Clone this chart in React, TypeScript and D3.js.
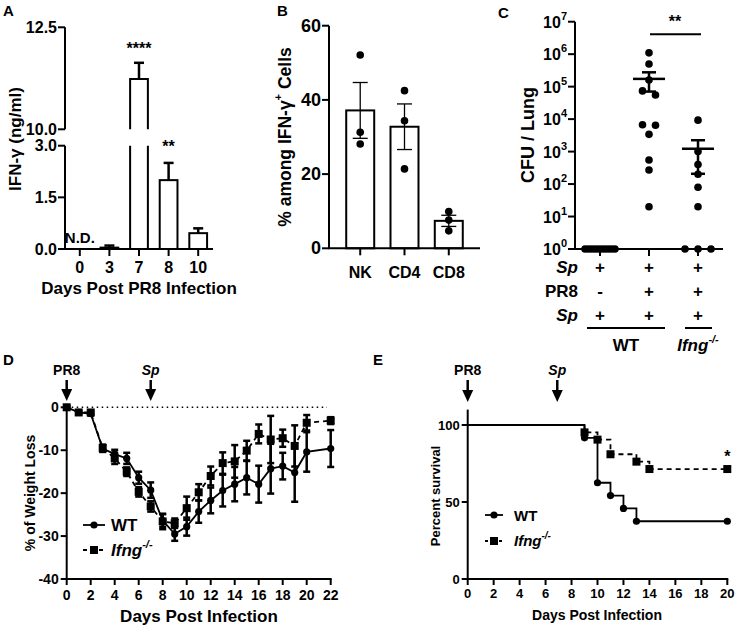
import React from 'react';
import * as d3 from 'd3';

const FONT = '"Liberation Sans", Arial, Helvetica, sans-serif';

// ---------- Panel A data ----------
const aDays = ['0', '3', '7', '8', '10'];
const aMean: (number | null)[] = [null, 0.04, 11.23, 2.0, 0.46];
const aSem: (number | null)[] = [null, 0.06, 0.4, 0.5, 0.14];
const aStars = ['', '', '****', '**', ''];
const aLowTicks = [0, 1.5, 3.0];
const aHighTicks = [10, 12.5];

// ---------- Panel B data ----------
const bCells = ['NK', 'CD4', 'CD8'];
const bNK = [52.1, 31.3, 28.1];
const bCD4 = [42.5, 34.4, 21.4];
const bCD8 = [9.9, 7.6, 4.7];
const bTicks = [0, 20, 40, 60];

// ---------- Panel C data ----------
const cGroups = ['SpOnly', 'WT', 'Ifng'];
const cSpOnly = [1, 1, 1, 1, 1, 1, 1, 1, 1, 1];
const cWT = [1.1e6, 5e5, 1.6e5, 7.4e4, 5.5e4, 6.7e3, 6.5e3, 3.4e3, 550, 270, 20];
const cIfng = [9.3e3, 1000, 400, 200, 80, 20, 1, 1, 1];
const cExponents = [0, 1, 2, 3, 4, 5, 6, 7];
const cRowSp1 = ['+', '+', '+'];
const cRowPR8 = ['-', '+', '+'];
const cRowSp2 = ['+', '+', '+'];

// ---------- Panel D data ----------
const dDays = [0, 1, 2, 3, 4, 5, 6, 7, 8, 9, 10, 11, 12, 13, 14, 15, 16, 17, 18, 19, 20, 22];
const dWT = [0, -1.2, -1.5, -9.6, -10.9, -11.9, -16.4, -19.3, -26.4, -29.5, -27.8, -24.3, -21.7, -19.4, -17.9, -16.4, -17.9, -14.3, -13.7, -15.2, -10.4, -9.6];
const dWTsem = [0.2, 0.3, 0.4, 0.8, 1.0, 1.3, 1.4, 1.8, 1.5, 1.6, 2.1, 2.6, 3.0, 3.7, 4.0, 3.9, 4.3, 5.8, 3.1, 6.8, 4.6, 4.3];
const dKO = [0, -1.2, -1.2, -9.5, -11.9, -15.0, -19.7, -23.1, -26.6, -27.0, -23.5, -19.8, -16.0, -13.0, -12.6, -10.1, -6.2, -7.5, -7.2, -9.0, -3.6, -3.1];
const dKOsem = [0.2, 0.3, 0.5, 0.8, 1.3, 1.0, 1.1, 1.2, 1.8, 1.1, 2.7, 1.9, 2.2, 2.5, 3.8, 2.3, 2.2, 5.5, 2.0, 4.8, 1.8, 0.8];
const dYTicks = [0, -10, -20, -30, -40];
const dXTicks = [0, 2, 4, 6, 8, 10, 12, 14, 16, 18, 20, 22];

// ---------- Panel E data ----------
const eWTTime = [0, 9, 10, 11, 12, 13, 20];
const eWTSurv = [100, 91.7, 62.5, 54.2, 45.8, 37.5, 37.5];
const eKOTime = [0, 9, 10, 11, 13, 14, 20];
const eKOSurv = [100, 95.2, 90.5, 81.0, 76.2, 71.4, 71.4];
const eYTicks = [0, 50, 100];
const eXTicks = [0, 2, 4, 6, 8, 10, 12, 14, 16, 18, 20];

type TP = {
  x: number; y: number; size: number; anchor?: string; italic?: boolean;
  rotate?: boolean; children: React.ReactNode; weight?: string;
};
function T({ x, y, size, anchor = 'middle', italic, rotate, children, weight = 'bold' }: TP) {
  return (
    <text
      x={rotate ? 0 : x}
      y={rotate ? 0 : y}
      transform={rotate ? `translate(${x},${y}) rotate(-90)` : undefined}
      fontSize={size}
      fontFamily={FONT}
      fontWeight={weight}
      fontStyle={italic ? 'italic' : 'normal'}
      textAnchor={anchor}
      dominantBaseline="central"
      fill="#000"
    >
      {children}
    </text>
  );
}

function Arrow({ x, y0, y1 }: { x: number; y0: number; y1: number }) {
  const head = 12;
  return (
    <g>
      <line x1={x} x2={x} y1={y0} y2={y1 - head + 1} stroke="#000" strokeWidth={2.5} />
      <polygon points={`${x - 5.5},${y1 - head} ${x + 5.5},${y1 - head} ${x},${y1}`} fill="#000" />
    </g>
  );
}

function PanelA() {
  const x = d3.scaleBand().domain(aDays).range([65, 213]).paddingInner(0.4).paddingOuter(0.2);
  const yLo = d3.scaleLinear().domain([0, 3]).range([249, 145.7]);
  const yHi = d3.scaleLinear().domain([10, 12.5]).range([129.3, 27.3]);
  const bw = x.bandwidth();
  const ax = 65;
  return (
    <g>
      <T x={3} y={10} size={15} anchor="start">A</T>
      {aDays.map((d, i) => {
        const v = aMean[i];
        if (v === null) return null;
        const x0 = x(d)!;
        const x1 = x0 + bw;
        const cx = x0 + bw / 2;
        const s = aSem[i] || 0;
        if (v > 3) {
          const top = yHi(v);
          return (
            <g key={d}>
              <path d={`M${x0},${yLo(3)} V${yLo(0)} H${x1} V${yLo(3)}`} fill="#fff" stroke="#000" strokeWidth={2} />
              <path d={`M${x0},${yHi(10)} V${top} H${x1} V${yHi(10)}`} fill="#fff" stroke="#000" strokeWidth={2} />
              <line x1={cx} x2={cx} y1={top} y2={yHi(v + s)} stroke="#000" strokeWidth={2.5} />
              <line x1={cx - 5} x2={cx + 5} y1={yHi(v + s)} y2={yHi(v + s)} stroke="#000" strokeWidth={2.5} />
            </g>
          );
        }
        const top = yLo(v);
        return (
          <g key={d}>
            <rect x={x0} y={top} width={bw} height={Math.max(yLo(0) - top, 0.5)} fill="#fff" stroke="#000" strokeWidth={2} />
            <line x1={cx} x2={cx} y1={top} y2={yLo(v + s)} stroke="#000" strokeWidth={2.5} />
            <line x1={cx - 5} x2={cx + 5} y1={yLo(v + s)} y2={yLo(v + s)} stroke="#000" strokeWidth={2.5} />
          </g>
        );
      })}
      {aDays.map((d, i) => {
        if (!aStars[i]) return null;
        const v = aMean[i]! + (aSem[i] || 0);
        const yy = v > 3 ? yHi(v) - 14 : yLo(v) - 16;
        return <T key={d} x={x(d)! + bw / 2} y={yy} size={16}>{aStars[i]}</T>;
      })}
      <T x={x('0')! + bw / 2} y={237} size={15}>N.D.</T>
      <line x1={ax} x2={ax} y1={yLo(0)} y2={yLo(3)} stroke="#000" strokeWidth={2} />
      <line x1={ax} x2={ax} y1={yHi(10)} y2={yHi(12.5)} stroke="#000" strokeWidth={2} />
      {aLowTicks.map((t) => (
        <g key={'l' + t}>
          <line x1={ax - 7} x2={ax} y1={yLo(t)} y2={yLo(t)} stroke="#000" strokeWidth={2} />
          <T x={ax - 8} y={yLo(t)} size={16} anchor="end">{d3.format('.1f')(t)}</T>
        </g>
      ))}
      {aHighTicks.map((t) => (
        <g key={'h' + t}>
          <line x1={ax - 7} x2={ax} y1={yHi(t)} y2={yHi(t)} stroke="#000" strokeWidth={2} />
          <T x={ax - 8} y={yHi(t)} size={16} anchor="end">{d3.format('.1f')(t)}</T>
        </g>
      ))}
      <line x1={ax - 1} x2={213} y1={249} y2={249} stroke="#000" strokeWidth={2} />
      {aDays.map((d) => (
        <g key={'x' + d}>
          <line x1={x(d)! + bw / 2} x2={x(d)! + bw / 2} y1={249} y2={256} stroke="#000" strokeWidth={2} />
          <T x={x(d)! + bw / 2} y={267} size={16}>{d}</T>
        </g>
      ))}
      <T x={139} y={288} size={17}>Days Post PR8 Infection</T>
      <T x={15} y={139} size={17} rotate>IFN-γ (ng/ml)</T>
    </g>
  );
}

function PanelB() {
  const x = d3.scaleBand().domain(bCells).range([329, 480]).paddingInner(0.368).paddingOuter(0.389);
  const y = d3.scaleLinear().domain([0, 60]).range([248.3, 25.7]);
  const bw = x.bandwidth();
  const sets = [bNK, bCD4, bCD8];
  return (
    <g>
      <T x={277} y={10} size={15} anchor="start">B</T>
      {bCells.map((c, i) => {
        const vals = sets[i];
        const m = d3.mean(vals)!;
        const sem = d3.deviation(vals)! / Math.sqrt(vals.length);
        const x0 = x(c)!;
        const cx = x0 + bw / 2;
        return (
          <g key={c}>
            <rect x={x0} y={y(m)} width={bw} height={y(0) - y(m)} fill="#fff" stroke="#000" strokeWidth={2} />
            <line x1={cx} x2={cx} y1={y(m - sem)} y2={y(m + sem)} stroke="#000" strokeWidth={1.3} />
            <line x1={cx - 7.5} x2={cx + 7.5} y1={y(m + sem)} y2={y(m + sem)} stroke="#000" strokeWidth={1.3} />
            <line x1={cx - 7.5} x2={cx + 7.5} y1={y(m - sem)} y2={y(m - sem)} stroke="#000" strokeWidth={1.3} />
            {vals.map((v, j) => (
              <circle key={j} cx={cx} cy={y(v)} r={3.8} fill="#000" />
            ))}
          </g>
        );
      })}
      <line x1={329} x2={329} y1={y(0)} y2={y(60)} stroke="#000" strokeWidth={2} />
      {bTicks.map((t) => (
        <g key={t}>
          <line x1={322} x2={329} y1={y(t)} y2={y(t)} stroke="#000" strokeWidth={2} />
          <T x={321} y={y(t)} size={18} anchor="end">{t}</T>
        </g>
      ))}
      <line x1={328} x2={480} y1={y(0)} y2={y(0)} stroke="#000" strokeWidth={2} />
      {bCells.map((c) => (
        <g key={'x' + c}>
          <line x1={x(c)! + bw / 2} x2={x(c)! + bw / 2} y1={y(0)} y2={y(0) + 7} stroke="#000" strokeWidth={2} />
          <T x={x(c)! + bw / 2} y={272} size={16}>{c}</T>
        </g>
      ))}
      <text transform="translate(285,137) rotate(-90)" fontSize={17.5} fontFamily={FONT} fontWeight="bold" textAnchor="middle" dominantBaseline="central">
        % among IFN-γ<tspan dy={-7} fontSize={11}>+</tspan><tspan dy={7}> Cells</tspan>
      </text>
    </g>
  );
}

function swarm(vals: number[], maxW: number, gap: number) {
  const idx = vals.map((v, i) => i).sort((a, b) => vals[b] - vals[a]);
  const off = new Array(vals.length).fill(0);
  let cluster: number[] = [];
  const flush = () => {
    const n = cluster.length;
    if (n > 1) {
      const step = Math.min(gap, maxW / (n - 1));
      cluster.forEach((k, j) => { off[k] = (j - (n - 1) / 2) * step; });
    }
    cluster = [];
  };
  idx.forEach((k) => {
    if (cluster.length && Math.log10(vals[cluster[cluster.length - 1]]) - Math.log10(vals[k]) > 0.2) flush();
    cluster.push(k);
  });
  flush();
  return off;
}

function PanelC() {
  const x = d3.scalePoint().domain(cGroups).range([575, 723]).padding(0.51);
  const y = d3.scaleLog().domain([1, 1e7]).range([249, 21.7]);
  const sets = [cSpOnly, cWT, cIfng];
  const rows = [
    { label: 'Sp', italic: true, vals: cRowSp1, y: 267 },
    { label: 'PR8', italic: false, vals: cRowPR8, y: 291 },
    { label: 'Sp', italic: true, vals: cRowSp2, y: 315 },
  ];
  return (
    <g>
      <T x={498} y={12} size={15} anchor="start">C</T>
      {cGroups.map((g, i) => {
        const vals = sets[i];
        const cx = x(g)!;
        const off = swarm(vals, 30, 13);
        const m = d3.mean(vals)!;
        const sem = d3.deviation(vals)! / Math.sqrt(vals.length);
        return (
          <g key={g}>
            {vals.map((v, j) => (
              <circle key={j} cx={cx + off[j]} cy={y(v)} r={3.8} fill="#000" />
            ))}
            <line x1={cx - 16} x2={cx + 16} y1={y(m)} y2={y(m)} stroke="#000" strokeWidth={2.5} />
            {sem > 0 && (
              <g>
                <line x1={cx} x2={cx} y1={y(m - sem)} y2={y(m + sem)} stroke="#000" strokeWidth={2.5} />
                <line x1={cx - 7} x2={cx + 7} y1={y(m + sem)} y2={y(m + sem)} stroke="#000" strokeWidth={2.5} />
                <line x1={cx - 7} x2={cx + 7} y1={y(m - sem)} y2={y(m - sem)} stroke="#000" strokeWidth={2.5} />
              </g>
            )}
          </g>
        );
      })}
      <line x1={575} x2={575} y1={y(1)} y2={y(1e7)} stroke="#000" strokeWidth={2} />
      {cExponents.map((e) => (
        <g key={e}>
          <line x1={568} x2={575} y1={y(10 ** e)} y2={y(10 ** e)} stroke="#000" strokeWidth={2} />
          <text x={567} y={y(10 ** e) + 6} fontSize={16} fontFamily={FONT} fontWeight="bold" textAnchor="end">
            10<tspan dy={-8} fontSize={11}>{e}</tspan>
          </text>
        </g>
      ))}
      <line x1={574} x2={723} y1={249} y2={249} stroke="#000" strokeWidth={2} />
      {cGroups.map((g) => (
        <line key={g} x1={x(g)!} x2={x(g)!} y1={249} y2={256} stroke="#000" strokeWidth={2} />
      ))}
      <line x1={x('WT')! + 1} x2={x('Ifng')! + 3} y1={34.3} y2={34.3} stroke="#000" strokeWidth={2} />
      <T x={675} y={21} size={16}>**</T>
      {rows.map((r, i) => (
        <g key={i}>
          <T x={578} y={r.y} size={17} anchor="end" italic={r.italic}>{r.label}</T>
          {cGroups.map((g, j) => (
            <T key={g} x={x(g)!} y={r.y} size={17}>{r.vals[j]}</T>
          ))}
        </g>
      ))}
      <line x1={587} x2={665} y1={328} y2={328} stroke="#000" strokeWidth={2} />
      <line x1={685} x2={712} y1={328} y2={328} stroke="#000" strokeWidth={2} />
      <T x={626} y={345} size={17}>WT</T>
      <text x={698} y={351} fontSize={17} fontFamily={FONT} fontWeight="bold" fontStyle="italic" textAnchor="middle">
        Ifng<tspan dy={-8} fontSize={11}>-/-</tspan>
      </text>
      <T x={528} y={135} size={18} rotate>CFU / Lung</T>
    </g>
  );
}

function PanelD() {
  const x = d3.scaleLinear().domain([0, 22]).range([66.7, 330.7]);
  const y = d3.scaleLinear().domain([-40, 0]).range([579, 407.3]);
  const line = d3.line<number>().x((d, i) => x(dDays[i])).y((d) => y(d));
  const errs = (vals: number[], sems: number[], key: string) =>
    vals.map((v, i) => {
      const cx = x(dDays[i]);
      return (
        <g key={key + i}>
          <line x1={cx} x2={cx} y1={y(v - sems[i])} y2={y(v + sems[i])} stroke="#000" strokeWidth={2.5} />
          <line x1={cx - 3.5} x2={cx + 3.5} y1={y(v - sems[i])} y2={y(v - sems[i])} stroke="#000" strokeWidth={2.5} />
          <line x1={cx - 3.5} x2={cx + 3.5} y1={y(v + sems[i])} y2={y(v + sems[i])} stroke="#000" strokeWidth={2.5} />
        </g>
      );
    });
  return (
    <g>
      <T x={3} y={359} size={15} anchor="start">D</T>
      <T x={x(0)} y={370} size={14}>PR8</T>
      <Arrow x={x(0)} y0={380} y1={401} />
      <T x={x(7)} y={370} size={14} italic>Sp</T>
      <Arrow x={x(7)} y0={380} y1={401} />
      <line x1={x(0)} x2={327} y1={y(0)} y2={y(0)} stroke="#000" strokeWidth={1.6} strokeDasharray="1.5,3.5" />
      <path d={line(dKO)!} fill="none" stroke="#000" strokeWidth={1.8} strokeDasharray="5,4" />
      <path d={line(dWT)!} fill="none" stroke="#000" strokeWidth={1.8} />
      {errs(dKO, dKOsem, 'k')}
      {errs(dWT, dWTsem, 'w')}
      {dKO.map((v, i) => (
        <rect key={'ks' + i} x={x(dDays[i]) - 4} y={y(v) - 4} width={8} height={8} fill="#000" />
      ))}
      {dWT.map((v, i) => (
        <circle key={'wc' + i} cx={x(dDays[i])} cy={y(v)} r={3.6} fill="#000" />
      ))}
      <line x1={x(0)} x2={x(0)} y1={y(-40)} y2={y(0.5)} stroke="#000" strokeWidth={2} />
      {dYTicks.map((t) => (
        <g key={t}>
          <line x1={x(0) - 6} x2={x(0)} y1={y(t)} y2={y(t)} stroke="#000" strokeWidth={2} />
          <T x={x(0) - 8} y={y(t)} size={14} anchor="end">{t}</T>
        </g>
      ))}
      <line x1={x(0) - 1} x2={x(22) + 1} y1={y(-40)} y2={y(-40)} stroke="#000" strokeWidth={2} />
      {dXTicks.map((t) => (
        <g key={'x' + t}>
          <line x1={x(t)} x2={x(t)} y1={y(-40)} y2={y(-40) + 6} stroke="#000" strokeWidth={2} />
          <T x={x(t)} y={595} size={14}>{t}</T>
        </g>
      ))}
      <T x={199} y={616} size={17}>Days Post Infection</T>
      <T x={30} y={493} size={14} rotate>% of Weight Loss</T>
      <line x1={83} x2={105} y1={525} y2={525} stroke="#000" strokeWidth={1.8} />
      <circle cx={94} cy={525} r={3.6} fill="#000" />
      <T x={111} y={525} size={17} anchor="start">WT</T>
      <line x1={83} x2={105} y1={550} y2={550} stroke="#000" strokeWidth={1.8} strokeDasharray="4,4" />
      <rect x={90} y={546} width={8} height={8} fill="#000" />
      <text x={111} y={556} fontSize={17} fontFamily={FONT} fontWeight="bold" fontStyle="italic">
        Ifng<tspan dy={-8} fontSize={11}>-/-</tspan>
      </text>
    </g>
  );
}

function PanelE() {
  const x = d3.scaleLinear().domain([0, 20]).range([467.7, 727.3]);
  const y = d3.scaleLinear().domain([0, 100]).range([579, 425]);
  const mk = (times: number[], surv: number[]) =>
    d3.line<number>().x((d) => x(d)).y((d, i) => y(surv[i])).curve(d3.curveStepAfter)(times)!;
  return (
    <g>
      <T x={373} y={359} size={15} anchor="start">E</T>
      <T x={x(0)} y={370} size={14}>PR8</T>
      <Arrow x={x(0)} y0={380} y1={402} />
      <T x={x(6.9)} y={370} size={14} italic>Sp</T>
      <Arrow x={x(6.9)} y0={380} y1={402} />
      <path d={mk(eKOTime, eKOSurv)} fill="none" stroke="#000" strokeWidth={1.8} strokeDasharray="5,4" />
      <path d={mk(eWTTime, eWTSurv)} fill="none" stroke="#000" strokeWidth={1.8} />
      {eKOTime.map((t, i) => i === 0 ? null : (
        <rect key={'k' + i} x={x(t) - 4} y={y(eKOSurv[i]) - 4} width={8} height={8} fill="#000" />
      ))}
      {eWTTime.map((t, i) => i === 0 ? null : (
        <circle key={'w' + i} cx={x(t)} cy={y(eWTSurv[i])} r={3.6} fill="#000" />
      ))}
      <T x={x(20)} y={456} size={16}>*</T>
      <line x1={x(0)} x2={x(0)} y1={y(0)} y2={y(110)} stroke="#000" strokeWidth={2} />
      {eYTicks.map((t) => (
        <g key={t}>
          <line x1={x(0) - 6} x2={x(0)} y1={y(t)} y2={y(t)} stroke="#000" strokeWidth={2} />
          <T x={x(0) - 8} y={y(t)} size={13} anchor="end">{t}</T>
        </g>
      ))}
      <line x1={x(0) - 1} x2={x(20) + 1} y1={y(0)} y2={y(0)} stroke="#000" strokeWidth={2} />
      {eXTicks.map((t) => (
        <g key={'x' + t}>
          <line x1={x(t)} x2={x(t)} y1={y(0)} y2={y(0) + 6} stroke="#000" strokeWidth={2} />
          <T x={x(t)} y={593} size={13}>{t}</T>
        </g>
      ))}
      <T x={597} y={615} size={14}>Days Post Infection</T>
      <T x={435} y={496} size={13} rotate>Percent survival</T>
      <line x1={485} x2={503} y1={515} y2={515} stroke="#000" strokeWidth={1.8} />
      <circle cx={494} cy={515} r={3.6} fill="#000" />
      <T x={514} y={515} size={15} anchor="start">WT</T>
      <line x1={485} x2={503} y1={541} y2={541} stroke="#000" strokeWidth={1.8} strokeDasharray="3,4" />
      <rect x={490} y={537} width={8} height={8} fill="#000" />
      <text x={514} y={546} fontSize={15} fontFamily={FONT} fontWeight="bold" fontStyle="italic">
        Ifng<tspan dy={-7} fontSize={10}>-/-</tspan>
      </text>
    </g>
  );
}

export default function App() {
  return (
    <svg
      width={736}
      height={626}
      viewBox="0 0 736 626"
      style={{ position: 'absolute', left: 0, top: 0, background: '#fff' }}
    >
      <rect x={0} y={0} width={736} height={626} fill="#fff" />
      <PanelA />
      <PanelB />
      <PanelC />
      <PanelD />
      <PanelE />
    </svg>
  );
}
